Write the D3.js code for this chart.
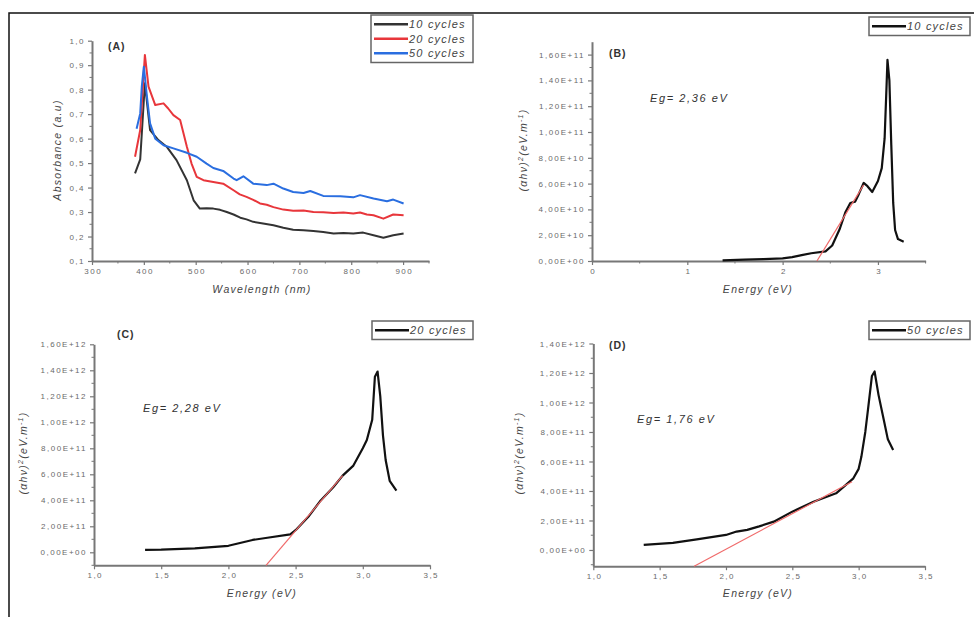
<!DOCTYPE html>
<html>
<head>
<meta charset="utf-8">
<script src="https://cdn.jsdelivr.net/npm/d3@7"></script>
<style>
  body { margin: 0; background: #fff; }
  svg { display: block; font-family: "Liberation Sans", Arial, sans-serif; }
  .tick-label { fill: #6a6a6a; font-size: 8px; letter-spacing: 1.5px; }
  .axis-title { fill: #444; font-size: 10.5px; font-style: italic; letter-spacing: 1.3px; }
  .panel-tag { fill: #333; font-size: 10.5px; font-weight: bold; letter-spacing: 1px; }
  .eg { fill: #333; font-size: 11px; font-style: italic; letter-spacing: 1.6px; }
  .legend-text { fill: #444; font-size: 11px; font-style: italic; letter-spacing: 1.2px; }
</style>
</head>
<body>
<svg id="chart" width="974" height="617"></svg>
<script>
// ---- (A) absorbance spectra ----
const wl10 = [383, 393, 402, 412, 428, 444, 463, 483, 496, 508, 521, 534, 547, 560, 573, 586, 598, 611, 630, 650, 669, 688, 708, 727, 746, 766, 785, 804, 823, 843, 862, 881, 901];
const abs10 = [0.458, 0.515, 0.826, 0.635, 0.594, 0.567, 0.512, 0.430, 0.348, 0.314, 0.316, 0.314, 0.309, 0.300, 0.290, 0.277, 0.270, 0.260, 0.253, 0.246, 0.236, 0.228, 0.226, 0.223, 0.218, 0.212, 0.214, 0.212, 0.216, 0.205, 0.195, 0.205, 0.212];
const wl20 = [383, 393, 402, 409, 422, 438, 447, 457, 470, 483, 492, 502, 515, 534, 553, 573, 585, 598, 611, 624, 637, 650, 669, 688, 708, 727, 746, 766, 785, 804, 817, 830, 843, 862, 881, 901];
const abs20 = [0.526, 0.635, 0.942, 0.812, 0.737, 0.744, 0.723, 0.696, 0.676, 0.567, 0.498, 0.444, 0.430, 0.423, 0.416, 0.389, 0.372, 0.362, 0.350, 0.335, 0.330, 0.320, 0.310, 0.305, 0.306, 0.300, 0.299, 0.296, 0.298, 0.294, 0.298, 0.290, 0.287, 0.273, 0.290, 0.287];
const wl50 = [386, 393, 396, 400, 406, 412, 422, 438, 457, 483, 502, 521, 534, 553, 573, 579, 592, 611, 637, 650, 669, 688, 708, 721, 746, 779, 804, 817, 843, 869, 881, 901];
const abs50 = [0.640, 0.703, 0.812, 0.894, 0.771, 0.662, 0.600, 0.573, 0.560, 0.542, 0.526, 0.498, 0.480, 0.468, 0.437, 0.430, 0.446, 0.416, 0.410, 0.416, 0.396, 0.382, 0.378, 0.386, 0.366, 0.365, 0.360, 0.369, 0.355, 0.344, 0.351, 0.335];
const wlTicks = [300, 400, 500, 600, 700, 800, 900];
const absTicks = [0.1, 0.2, 0.3, 0.4, 0.5, 0.6, 0.7, 0.8, 0.9, 1.0];

// ---- (B) 10 cycles Tauc plot ----
const eB = [1.37, 1.6, 1.8, 2.0, 2.1, 2.2, 2.3, 2.45, 2.52, 2.6, 2.66, 2.71, 2.76, 2.8, 2.85, 2.89, 2.94, 3.0, 3.04, 3.07, 3.09, 3.1, 3.12, 3.14, 3.16, 3.18, 3.21, 3.27];
const tB = [0.05e10, 0.1e10, 0.15e10, 0.2e10, 0.3e10, 0.45e10, 0.6e10, 0.75e10, 1.2e10, 2.5e10, 3.8e10, 4.5e10, 4.6e10, 5.2e10, 6.05e10, 5.8e10, 5.35e10, 6.2e10, 7.2e10, 9.5e10, 1.35e11, 1.56e11, 1.4e11, 9.0e10, 4.5e10, 2.4e10, 1.7e10, 1.5e10];
const egB = 2.36, fitEndB = [2.85, 5.9e10];
const eTicksB = [0, 1, 2, 3];
const tTicksB = [0, 2e10, 4e10, 6e10, 8e10, 1e11, 1.2e11, 1.4e11, 1.6e11];

// ---- (C) 20 cycles Tauc plot ----
const eC = [1.38, 1.5, 1.75, 2.0, 2.18, 2.29, 2.46, 2.5, 2.6, 2.68, 2.78, 2.85, 2.93, 3.0, 3.03, 3.07, 3.09, 3.11, 3.13, 3.15, 3.17, 3.2, 3.25];
const tC = [1.8e10, 2.0e10, 3.0e10, 5.0e10, 9.5e10, 1.12e11, 1.38e11, 1.7e11, 2.8e11, 3.9e11, 5.0e11, 5.9e11, 6.67e11, 8.0e11, 8.64e11, 1.02e12, 1.35e12, 1.39e12, 1.2e12, 9.0e11, 7.1e11, 5.5e11, 4.74e11];
const egC = 2.28, fitEndC = [2.85, 5.9e11];
const eTicksCD = [1.0, 1.5, 2.0, 2.5, 3.0, 3.5];
const tTicksC = [0, 2e11, 4e11, 6e11, 8e11, 1e12, 1.2e12, 1.4e12, 1.6e12];

// ---- (D) 50 cycles Tauc plot ----
const eD = [1.38, 1.6, 1.78, 2.0, 2.08, 2.16, 2.25, 2.36, 2.5, 2.66, 2.83, 2.96, 3.0, 3.02, 3.05, 3.07, 3.1, 3.12, 3.15, 3.19, 3.22, 3.26];
const tD = [3.4e10, 4.8e10, 7.2e10, 1.02e11, 1.25e11, 1.36e11, 1.6e11, 1.92e11, 2.6e11, 3.27e11, 3.84e11, 4.86e11, 5.5e11, 6.3e11, 8.0e11, 9.5e11, 1.18e12, 1.21e12, 1.05e12, 8.8e11, 7.5e11, 6.78e11];
const egD = 1.76, fitEndD = [2.95, 4.63e11];
const tTicksD = [0, 2e11, 4e11, 6e11, 8e11, 1e12, 1.2e12, 1.4e12];

const legendA = ["10 cycles", "20 cycles", "50 cycles"];
const seriesColors = ["#333333", "#e8363b", "#2a6ee0"];

const svg = d3.select("#chart");

// outer frame (top and left edges)
svg.append("path").attr("d", "M9,617 V13 H974").attr("fill", "none").attr("stroke", "#111").attr("stroke-width", 1.5);

const comma = (s) => s.replace(".", ",");
const sci = (v) => {
  if (v === 0) return "0,00E+00";
  const e = Math.floor(Math.log10(Math.abs(v)) + 1e-9);
  const m = v / Math.pow(10, e);
  return comma(m.toFixed(2)) + "E+" + String(e).padStart(2, "0");
};

function drawAxes(g, x, y, opt) {
  const axisColor = "#777";
  const [x0, x1] = x.range();
  const [y0, y1] = y.range();
  // x axis
  const ax = g.append("g").attr("transform", `translate(0,${y0})`)
    .call(d3.axisBottom(x).tickValues(opt.xTicks).tickFormat(opt.xFmt).tickSize(4).tickPadding(3).tickSizeOuter(0));
  // y axis
  const ay = g.append("g").attr("transform", `translate(${x0},0)`)
    .call(d3.axisLeft(y).tickValues(opt.yTicks).tickFormat(opt.yFmt).tickSize(4).tickPadding(3).tickSizeOuter(0));
  [ax, ay].forEach(a => {
    a.select(".domain").attr("stroke", axisColor).attr("stroke-width", 2);
    a.selectAll(".tick line").attr("stroke", axisColor).attr("stroke-width", 1.2);
    a.selectAll(".tick text").attr("class", "tick-label").attr("font-size", null).attr("font-family", null);
  });
  // x labels: shift half the letter spacing so they stay centred on the tick
  ax.selectAll(".tick text").attr("dx", "0.75px");
  // minor ticks
  g.append("g").selectAll("line").data(opt.xMinor || []).join("line")
    .attr("x1", d => x(d)).attr("x2", d => x(d)).attr("y1", y0).attr("y2", y0 + 2.5)
    .attr("stroke", axisColor).attr("stroke-width", 1);
  g.append("g").selectAll("line").data(opt.yMinor || []).join("line")
    .attr("x1", x0).attr("x2", x0 - 2.5).attr("y1", d => y(d)).attr("y2", d => y(d))
    .attr("stroke", axisColor).attr("stroke-width", 1);
}

function drawLegend(g, x, yTop, w, labels, colors) {
  const rowH = 14.5;
  g.append("rect").attr("x", x).attr("y", yTop).attr("width", w).attr("height", labels.length * rowH + 4)
    .attr("fill", "#fff").attr("stroke", "#666").attr("stroke-width", 1.5);
  labels.forEach((lab, i) => {
    const cy = yTop + 2 + rowH * i + rowH / 2;
    g.append("line").attr("x1", x + 3).attr("x2", x + 37).attr("y1", cy).attr("y2", cy)
      .attr("stroke", colors[i]).attr("stroke-width", 2.5);
    g.append("text").attr("class", "legend-text").attr("x", x + 38).attr("y", cy + 4).text(lab);
  });
}

function yTitle(g, cx, cy) {
  const t = g.append("text").attr("class", "axis-title").attr("text-anchor", "middle")
    .attr("transform", `translate(${cx},${cy}) rotate(-90)`);
  t.append("tspan").text("(αhν)");
  t.append("tspan").attr("dy", -4).attr("font-size", "7px").text("2");
  t.append("tspan").attr("dy", 4).text("(eV.m");
  t.append("tspan").attr("dy", -4).attr("font-size", "7px").text("-1");
  t.append("tspan").attr("dy", 4).text(")");
}

// ================= Panel A =================
{
  const g = svg.append("g");
  const x = d3.scaleLinear().domain([300, 950]).range([92, 429]);
  const y = d3.scaleLinear().domain([0.1, 1.0]).range([261, 40.7]);
  drawAxes(g, x, y, {
    xTicks: wlTicks, xFmt: d3.format("d"),
    yTicks: absTicks, yFmt: d => comma(d.toFixed(1)),
    xMinor: d3.range(350, 951, 100),
    yMinor: d3.range(0.15, 1.0, 0.1)
  });
  const line = d3.line().x(d => x(d[0])).y(d => y(d[1]));
  const sets = [[wl10, abs10], [wl20, abs20], [wl50, abs50]];
  sets.forEach((s, i) => {
    g.append("path").datum(d3.zip(s[0], s[1])).attr("d", line)
      .attr("fill", "none").attr("stroke", seriesColors[i]).attr("stroke-width", 2).attr("stroke-linejoin", "round");
  });
  g.append("text").attr("class", "panel-tag").attr("x", 108).attr("y", 50).text("(A)");
  g.append("text").attr("class", "axis-title").attr("text-anchor", "middle")
    .attr("transform", "translate(61,150) rotate(-90)").text("Absorbance (a.u)");
  g.append("text").attr("class", "axis-title").attr("text-anchor", "middle").attr("x", 262).attr("y", 293).text("Wavelength (nm)");
  drawLegend(g, 371, 15, 102, legendA, seriesColors);
}

// generic Tauc panel
function taucPanel(cfg) {
  const g = svg.append("g");
  const x = d3.scaleLinear().domain(cfg.xDom).range(cfg.xRange);
  const y = d3.scaleLinear().domain(cfg.yDom).range(cfg.yRange);
  drawAxes(g, x, y, {
    xTicks: cfg.xTicks, xFmt: cfg.xFmt,
    yTicks: cfg.yTicks, yFmt: sci,
    xMinor: cfg.xMinor, yMinor: cfg.yMinor
  });
  const line = d3.line().x(d => x(d[0])).y(d => y(d[1]));
  g.append("path").datum(d3.zip(cfg.e, cfg.t)).attr("d", line)
    .attr("fill", "none").attr("stroke", "#111").attr("stroke-width", 2.2).attr("stroke-linejoin", "round");
  // linear fit extrapolated down to the energy axis at Eg
  const fit = [[cfg.eg, cfg.yDom[0]], cfg.fitEnd];
  g.append("path").datum(fit).attr("d", line).attr("fill", "none").attr("stroke", "#f06a6a").attr("stroke-width", 1.2);
  g.append("text").attr("class", "panel-tag").attr("x", cfg.tag[0]).attr("y", cfg.tag[1]).text(cfg.tagText);
  g.append("text").attr("class", "eg").attr("x", cfg.egPos[0]).attr("y", cfg.egPos[1]).text("Eg= " + comma(cfg.eg.toFixed(2)) + " eV");
  yTitle(g, cfg.yTitle[0], cfg.yTitle[1]);
  g.append("text").attr("class", "axis-title").attr("text-anchor", "middle")
    .attr("x", cfg.xTitle[0]).attr("y", cfg.xTitle[1]).text("Energy (eV)");
  drawLegend(g, cfg.legend[0], cfg.legend[1], 101, [cfg.legendText], ["#111"]);
}

taucPanel({
  e: eB, t: tB, eg: egB, fitEnd: fitEndB,
  xDom: [0, 3.5], xRange: [592, 925.6], yDom: [0, 1.7e11], yRange: [261, 41.7],
  xTicks: eTicksB, xFmt: d3.format("d"), xMinor: [0.5, 1.5, 2.5, 3.5],
  yTicks: tTicksB, yMinor: d3.range(1e10, 1.7e11, 2e10),
  tag: [609, 57], tagText: "(B)", egPos: [650, 102],
  yTitle: [527, 150], xTitle: [758, 293], legend: [869, 17], legendText: "10 cycles"
});

taucPanel({
  e: eC, t: tC, eg: egC, fitEnd: fitEndC,
  xDom: [1, 3.5], xRange: [94, 430], yDom: [-1e11, 1.6e12], yRange: [565.3, 344.3],
  xTicks: eTicksCD, xFmt: d => comma(d.toFixed(1)), xMinor: [],
  yTicks: tTicksC, yMinor: d3.range(-1e11, 1.6e12, 2e11),
  tag: [117, 338], tagText: "(C)", egPos: [143, 412],
  yTitle: [27, 453], xTitle: [262, 597], legend: [372, 321], legendText: "20 cycles"
});

taucPanel({
  e: eD, t: tD, eg: egD, fitEnd: fitEndD,
  xDom: [1, 3.5], xRange: [593.3, 925], yDom: [-1.1e11, 1.4e12], yRange: [566.2, 343.5],
  xTicks: eTicksCD, xFmt: d => comma(d.toFixed(1)), xMinor: [],
  yTicks: tTicksD, yMinor: d3.range(-1e11, 1.4e12, 2e11),
  tag: [609, 349], tagText: "(D)", egPos: [637, 423],
  yTitle: [523, 453], xTitle: [758, 597], legend: [869, 321], legendText: "50 cycles"
});
</script>
</body>
</html>
